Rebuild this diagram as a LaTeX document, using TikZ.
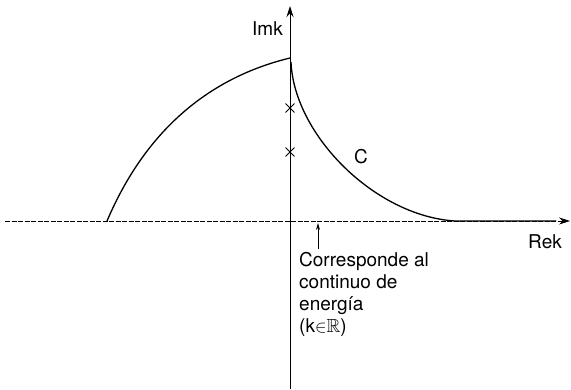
\documentclass[tikz,border=0pt]{standalone}
\usepackage{amssymb}
\usepackage{fontspec}
\setmainfont{TeX Gyre Heros}
\usetikzlibrary{arrows.meta,shapes.misc}
\tikzset{
  >={Stealth[length=11pt,width=7pt]},
  axis/.style={->,line width=0.9pt},
  realaxis/.style={->,line width=0.6pt,dash pattern=on 5pt off 1.5pt},
  contour/.style={line width=1.3pt},
  pole/.style={cross out,draw,line width=0.9pt,minimum size=8pt,inner sep=0pt},
  lbl/.style={font=\fontsize{19}{22}\selectfont,inner sep=0pt},
  pointer/.style={->,line width=0.8pt,>={Stealth[length=7pt,width=4pt]}},
}
\begin{document}
\begin{tikzpicture}[x=1pt,y=-1pt]
  \useasboundingbox (0,0) rectangle (571,389);
  \coordinate (re0) at (5,221);
  \coordinate (re1) at (570,221);
  \coordinate (im0) at (290,389);
  \coordinate (im1) at (290,6);
  \draw[realaxis] (re0) -- (re1);
  \draw[axis] (im0) -- (im1);
  \coordinate (a) at (107,221);
  \coordinate (top) at (290,58);
  \coordinate (b) at (291,62);
  \coordinate (land) at (455,221);
  \coordinate (tail) at (556,221);
  \draw[contour] (a) .. controls (150,120) and (220,75) .. (top);
  \draw[contour] (b) .. controls (294,135) and (375,216) .. (land) -- (tail);
  \foreach \y/\n in {108/p1,152/p2}
    \node[pole] (\n) at (290,\y) {};
  \node[lbl,anchor=east] (imk) at (283,29) {Imk};
  \node[lbl] (rek) at (545,242) {Rek};
  \node[lbl] (c) at (361,157) {C};
  \node[lbl,anchor=north west,align=left] (txt) at (299,252) {Corresponde al\\continuo de\\energía\\(k{$\in$}{$\mathbb{R}$})};
  \coordinate (foot) at (318,249);
  \coordinate (hit) at (318,223);
  \draw[pointer] (foot) -- (hit);
\end{tikzpicture}
\end{document}
